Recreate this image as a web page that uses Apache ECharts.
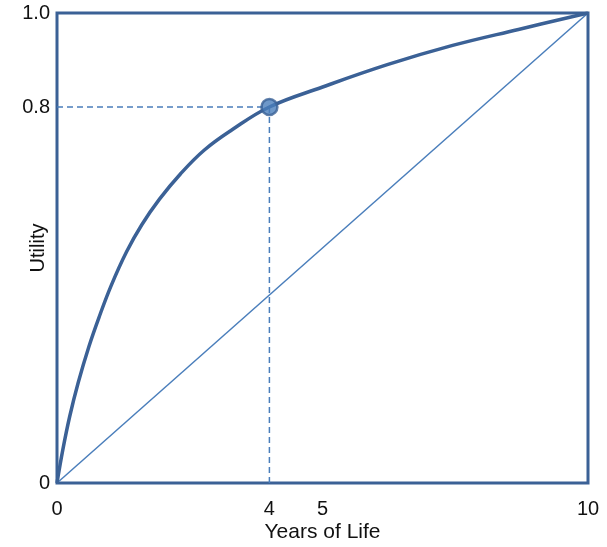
<!DOCTYPE html>
<html><head><meta charset="utf-8">
<script src="https://cdn.jsdelivr.net/npm/echarts@6/dist/echarts.min.js"></script>
<style>html,body{margin:0;padding:0;background:#fff}#c{width:607px;height:547px}</style>
</head><body><div id="c"></div>
<script>
// Data
var curveX = [0, 0.11, 0.24, 0.40, 0.60, 0.79, 1.02, 1.31, 1.60, 1.93, 2.32, 2.77, 3.29, 4.0, 4.99, 6.22, 7.45, 8.69, 10];
var curveY = [0, 0.071, 0.142, 0.214, 0.29, 0.352, 0.42, 0.492, 0.55, 0.604, 0.657, 0.708, 0.751, 0.80, 0.842, 0.890, 0.931, 0.965, 1.0];
var diagX = [0, 10];
var diagY = [0, 1];
var pointX = 4, pointY = 0.8;
var xTickLabels = [0, 4, 5, 10];
var yTickLabels = {"0": "0", "0.8": "0.8", "1": "1.0"};

var dark = '#3B6196', mid = '#4A7EBB';
var font = 'Liberation Sans';
function zip(a, b) { return a.map(function (v, i) { return [v, b[i]]; }); }

var chart = echarts.init(document.getElementById('c'));
chart.setOption({
  animation: false,
  grid: { left: 57, right: 19, top: 13, bottom: 64, outerBoundsMode: 'none', containLabel: false,
          show: true, borderColor: dark, borderWidth: 3, backgroundColor: 'transparent' },
  xAxis: {
    type: 'value', min: 0, max: 10, interval: 1,
    name: 'Years of Life', nameLocation: 'middle', nameGap: 39, nameMoveOverlap: false,
    nameTextStyle: { fontFamily: font, fontSize: 21, color: '#111', verticalAlign: 'top' },
    axisLine: { show: false }, axisTick: { show: false }, splitLine: { show: false },
    axisLabel: {
      margin: 16, fontFamily: font, fontSize: 20, color: '#111',
      formatter: function (v) { return xTickLabels.indexOf(Math.round(v)) >= 0 && Math.abs(v - Math.round(v)) < 1e-6 ? String(Math.round(v)) : ''; }
    }
  },
  yAxis: {
    type: 'value', min: 0, max: 1, interval: 0.1,
    name: 'Utility', nameLocation: 'middle', nameGap: 9, nameRotate: 90, nameMoveOverlap: false,
    nameTextStyle: { fontFamily: font, fontSize: 20, color: '#111', verticalAlign: 'bottom' },
    axisLine: { show: false }, axisTick: { show: false }, splitLine: { show: false },
    axisLabel: {
      margin: 7, fontFamily: font, fontSize: 20, color: '#111',
      formatter: function (v) { var k = String(Math.round(v * 10) / 10); return yTickLabels[k] || ''; }
    }
  },
  series: [
    { type: 'line', data: zip(diagX, diagY), symbol: 'none', lineStyle: { color: mid, width: 1.5 }, z: 2 },
    { type: 'line', data: [[0, pointY], [pointX, pointY]], symbol: 'none', lineStyle: { color: mid, width: 1.5, type: [6, 4] }, z: 2 },
    { type: 'line', data: [[pointX, pointY], [pointX, 0]], symbol: 'none', lineStyle: { color: mid, width: 1.5, type: [6, 4] }, z: 2 },
    { type: 'line', data: zip(curveX, curveY), symbol: 'none', smooth: 0.4, lineStyle: { color: dark, width: 3.5 }, z: 3 },
    { type: 'scatter', data: [[pointX, pointY]], symbolSize: 16, itemStyle: { color: mid, borderColor: dark, borderWidth: 2.5 }, z: 4 }
  ]
});
</script></body></html>
